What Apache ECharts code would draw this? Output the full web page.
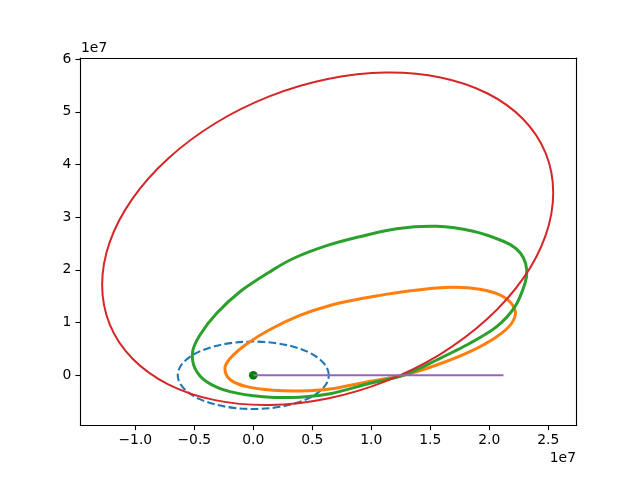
<!DOCTYPE html>
<html><head><meta charset="utf-8">
<script src="https://cdn.jsdelivr.net/npm/echarts@6/dist/echarts.min.js"></script>
<style>html,body{margin:0;padding:0;background:#fff}#c{width:640px;height:478px}</style>
</head><body><div id="c"></div>
<script>
// All values in units of 1e7 (as shown by the axis offset labels)
const xTicks = [-1.0, -0.5, 0.0, 0.5, 1.0, 1.5, 2.0, 2.5];
const yTicks = [0, 1, 2, 3, 4, 5, 6];
const xRange = [-1.466, 2.741];
const yRange = [-0.949, 6.02];

const earthX = [0.640, 0.618, 0.554, 0.453, 0.320, 0.166, 0.000, -0.166, -0.320, -0.453, -0.554, -0.618,
                -0.640, -0.618, -0.554, -0.453, -0.320, -0.166, 0.000, 0.166, 0.320, 0.453, 0.554, 0.618];
const earthY = [0.000, 0.166, 0.320, 0.453, 0.554, 0.618, 0.640, 0.618, 0.554, 0.453, 0.320, 0.166,
                0.000, -0.166, -0.320, -0.453, -0.554, -0.618, -0.640, -0.618, -0.554, -0.453, -0.320, -0.166];

const orangeX = [1.271, 1.554, 1.836, 2.063, 2.190, 2.218, 2.119, 1.921, 1.667, 1.271, 0.932, 0.650,
                 0.395, 0.142, -0.056, -0.189, -0.240, -0.197, -0.056, 0.169, 0.396, 0.650, 0.932];
const orangeY = [0.000, 0.195, 0.448, 0.732, 0.987, 1.239, 1.491, 1.632, 1.670, 1.586, 1.461, 1.324,
                 1.135, 0.869, 0.594, 0.338, 0.139, -0.080, -0.216, -0.285, -0.298, -0.260, -0.140];

const greenX = [1.271, 1.554, 1.836, 2.063, 2.218, 2.303, 2.318, 2.290, 2.226, 2.119, 1.864, 1.554, 1.215,
                0.904, 0.622, 0.339, 0.142, -0.113, -0.310, -0.452, -0.514, -0.494, -0.395, -0.197,
                0.085, 0.396, 0.650, 0.989];
const greenY = [0.000, 0.290, 0.607, 0.922, 1.302, 1.746, 1.998, 2.226, 2.406, 2.543, 2.732, 2.827, 2.782,
                2.630, 2.459, 2.216, 1.966, 1.586, 1.176, 0.765, 0.448, 0.133, -0.121, -0.311,
                -0.406, -0.416, -0.351, -0.152];

const redX = [2.542, 2.477, 2.286, 1.982, 1.587, 1.125, 0.631, 0.136, -0.325, -0.721, -1.025, -1.216,
              -1.281, -1.216, -1.025, -0.721, -0.325, 0.136, 0.631, 1.125, 1.587, 1.982, 2.286, 2.477];
const redY = [3.465, 2.651, 1.833, 1.066, 0.403, -0.110, -0.440, -0.563, -0.471, -0.171, 0.319, 0.961,
              1.716, 2.530, 3.348, 4.114, 4.777, 5.291, 5.620, 5.743, 5.651, 5.351, 4.862, 4.219];

const lineX = [0.0, 2.12];
const lineY = [0.0, 0.0];
const centerX = [0.0];
const centerY = [0.0];

function pairs(xs, ys) { return xs.map((x, i) => [x, ys[i]]); }

// closed smooth curve through the data points, positioned via the axes (api.coord)
function closedCurveSeries(xs, ys, color, width, dash) {
  const pts = pairs(xs, ys);
  return {
    type: 'custom',
    coordinateSystem: 'cartesian2d',
    data: pts,
    encode: { x: 0, y: 1 },
    silent: true,
    clip: false,
    renderItem: function (params, api) {
      if (params.dataIndex !== 0) return null;
      const p = pts.map(q => api.coord(q));
      const n = p.length;
      let d = 'M' + p[0][0] + ' ' + p[0][1];
      for (let i = 0; i < n; i++) {
        const p0 = p[(i - 1 + n) % n], p1 = p[i], p2 = p[(i + 1) % n], p3 = p[(i + 2) % n];
        const c1x = p1[0] + (p2[0] - p0[0]) / 6, c1y = p1[1] + (p2[1] - p0[1]) / 6;
        const c2x = p2[0] - (p3[0] - p1[0]) / 6, c2y = p2[1] - (p3[1] - p1[1]) / 6;
        d += ' C' + c1x + ' ' + c1y + ' ' + c2x + ' ' + c2y + ' ' + p2[0] + ' ' + p2[1];
      }
      d += ' Z';
      return {
        type: 'path',
        shape: { pathData: d },
        style: { fill: null, stroke: color, lineWidth: width, lineDash: dash || null }
      };
    }
  };
}

const FONT = 'DejaVu Sans';
function fmtX(v) { return (v < 0 ? '\u2212' : '') + Math.abs(v).toFixed(1); }
function fmtY(v) { return (v < 0 ? '\u2212' : '') + Math.abs(v).toFixed(0); }

const axisCommon = {
  type: 'value', splitLine: { show: false },
  axisLine: { show: true, onZero: false, lineStyle: { color: '#000', width: 1.1 } },
};

const chart = echarts.init(document.getElementById('c'), null, { renderer: 'canvas' });
chart.setOption({
  animation: false,
  backgroundColor: '#fff',
  grid: { left: 80.3, right: 63.3, top: 58, bottom: 52.7, containLabel: false },
  xAxis: [
    Object.assign({}, axisCommon, {
      min: xRange[0], max: xRange[1], position: 'bottom',
      axisTick: { show: true, length: 4.9, lineStyle: { color: '#000', width: 1.1 }, customValues: xTicks },
      axisLabel: { show: true, margin: 8, color: '#000', fontFamily: FONT, fontSize: 13.9, formatter: fmtX, customValues: xTicks }
    }),
    Object.assign({}, axisCommon, {
      min: xRange[0], max: xRange[1], position: 'top',
      axisTick: { show: false }, axisLabel: { show: false }
    })
  ],
  yAxis: [
    Object.assign({}, axisCommon, {
      min: yRange[0], max: yRange[1], position: 'left',
      axisTick: { show: true, length: 4.9, lineStyle: { color: '#000', width: 1.1 }, customValues: yTicks },
      axisLabel: { show: true, margin: 9, color: '#000', fontFamily: FONT, fontSize: 13.9, formatter: fmtY, customValues: yTicks }
    }),
    Object.assign({}, axisCommon, {
      min: yRange[0], max: yRange[1], position: 'right',
      axisTick: { show: false }, axisLabel: { show: false }
    })
  ],
  graphic: [
    { type: 'text', left: 81, top: 41, style: { text: '1e7', font: '13.9px "DejaVu Sans"', fill: '#000' } },
    { type: 'text', right: 64, top: 451, style: { text: '1e7', font: '13.9px "DejaVu Sans"', fill: '#000' } }
  ],
  series: [
    closedCurveSeries(earthX, earthY, '#1f77b4', 2.1, [7.7, 3.3]),
    closedCurveSeries(orangeX, orangeY, '#ff7f0e', 3),
    closedCurveSeries(greenX, greenY, '#2ca02c', 3),
    closedCurveSeries(redX, redY, '#d62728', 2),
    { type: 'line', data: pairs(lineX, lineY), showSymbol: false, symbol: 'none',
      lineStyle: { color: '#9467bd', width: 2 } },
    { type: 'scatter', data: pairs(centerX, centerY), symbol: 'circle', symbolSize: 8.7,
      itemStyle: { color: '#008000', opacity: 1 } }
  ]
});
</script></body></html>
